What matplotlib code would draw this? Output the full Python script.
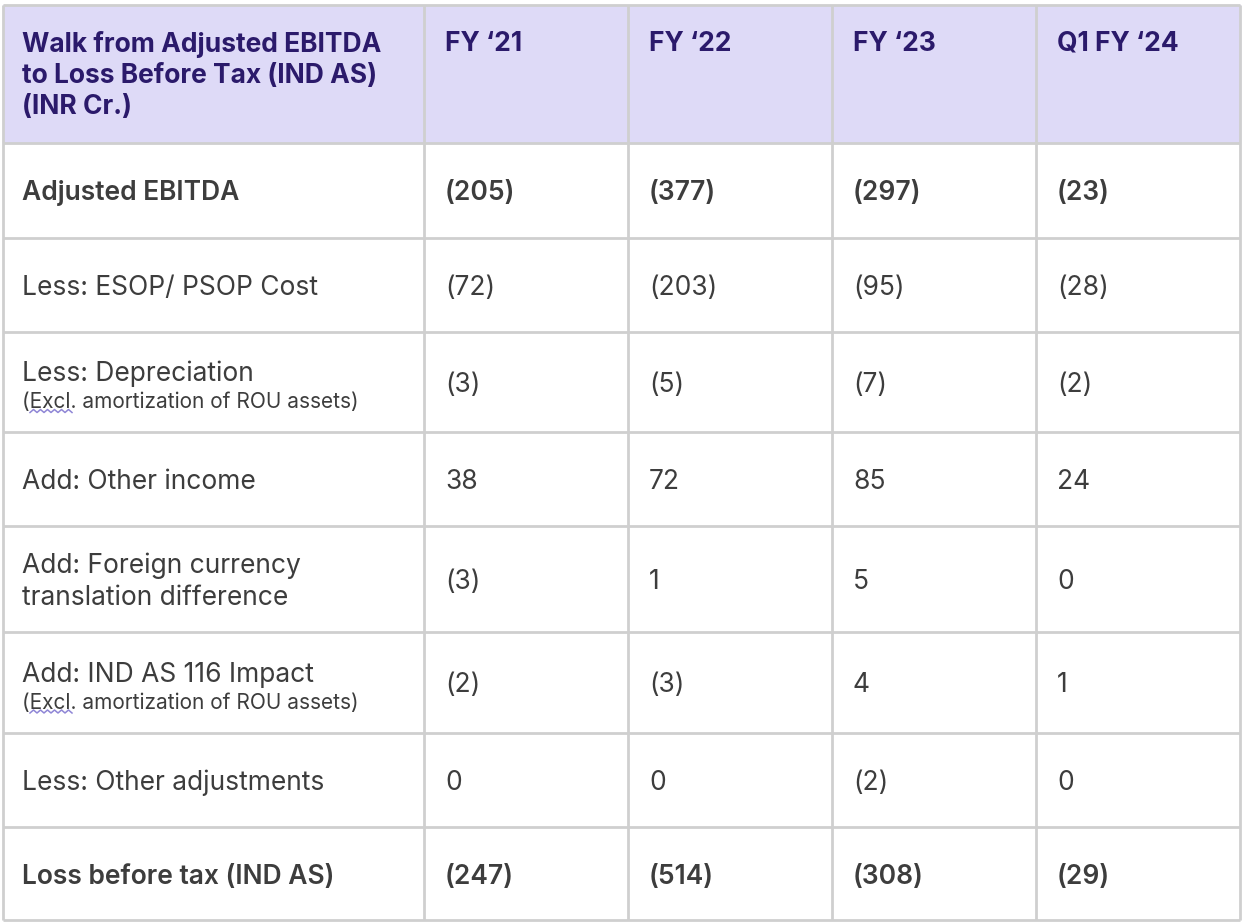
import numpy as np
import matplotlib.pyplot as plt

plt.rcParams['font.family'] = ['Inter', 'DejaVu Sans']

# table contents
header_title = ["Walk from Adjusted EBITDA", "to Loss Before Tax (IND AS)", "(INR Cr.)"]
periods = ["FY \u201821", "FY \u201822", "FY \u201823", "Q1 FY \u201824"]

row_labels = [
    ["Adjusted EBITDA"],
    ["Less: ESOP/ PSOP Cost"],
    ["Less: Depreciation"],
    ["Add: Other income"],
    ["Add: Foreign currency", "translation difference"],
    ["Add: IND AS 116 Impact"],
    ["Less: Other adjustments"],
    ["Loss before tax (IND AS)"],
]
row_notes = ["", "", "(Excl. amortization of ROU assets)", "", "",
             "(Excl. amortization of ROU assets)", "", ""]
bold_rows = [0, 7]

fy21 = ["(205)", "(72)", "(3)", "38", "(3)", "(2)", "0", "(247)"]
fy22 = ["(377)", "(203)", "(5)", "72", "1", "(3)", "0", "(514)"]
fy23 = ["(297)", "(95)", "(7)", "85", "5", "4", "(2)", "(308)"]
q1fy24 = ["(23)", "(28)", "(2)", "24", "0", "1", "0", "(29)"]
columns = [fy21, fy22, fy23, q1fy24]

# layout in pixels
col_edges = [3, 424, 628, 832, 1036, 1240]
row_edges = [5, 143, 238, 332, 432, 526, 632, 733, 827, 920]
pad = 20
fs_main = 19
fs_note = 15

header_bg = "#DEDAF7"
header_fg = "#2B1A6B"
body_fg = "#3D3D3D"
grid_c = "#CFCFCF"
squiggle_c = "#8F86D6"

fig = plt.figure(figsize=(12.42, 9.24), dpi=100)
ax = fig.add_axes([0, 0, 1, 1])
ax.set_xlim(0, 1242)
ax.set_ylim(924, 0)
ax.axis('off')

ax.axhspan(row_edges[0], row_edges[1], xmin=col_edges[0] / 1242, xmax=col_edges[-1] / 1242,
           color=header_bg, zorder=0)
ax.hlines(row_edges, col_edges[0], col_edges[-1], color=grid_c, lw=2, zorder=1)
ax.vlines(col_edges, row_edges[0], row_edges[-1], color=grid_c, lw=2, zorder=1)

x0 = col_edges[0] + pad - 1

# header
for k, line in enumerate(header_title):
    ax.text(x0, 45 + 31 * k, line, fontsize=fs_main, fontweight='bold',
            color=header_fg, va='center', ha='left')
for j, p in enumerate(periods):
    ax.text(col_edges[j + 1] + pad + 1, 44, p, fontsize=fs_main, fontweight='bold',
            color=header_fg, va='center', ha='left')

# body
for i, lines in enumerate(row_labels):
    top, bot = row_edges[i + 1], row_edges[i + 2]
    mid = (top + bot) / 2 + 3
    w = 'semibold' if i in bold_rows else 'normal'
    if row_notes[i]:
        ax.text(x0, mid - 11, lines[0], fontsize=fs_main, fontweight=w,
                color=body_fg, va='center', ha='left')
        ax.text(x0, mid + 17, row_notes[i], fontsize=fs_note,
                color=body_fg, va='center', ha='left')
        # spell-check squiggle under "Excl"
        sx = np.linspace(x0 + 8, x0 + 50, 13)
        sy = mid + 26 + np.where(np.arange(13) % 2 == 0, 1.5, -1.5)
        ax.plot(sx, sy, color=squiggle_c, lw=1.1, zorder=3)
    elif len(lines) == 2:
        ax.text(x0, mid - 16, lines[0], fontsize=fs_main, fontweight=w,
                color=body_fg, va='center', ha='left')
        ax.text(x0, mid + 16, lines[1], fontsize=fs_main, fontweight=w,
                color=body_fg, va='center', ha='left')
    else:
        ax.text(x0, mid, lines[0], fontsize=fs_main, fontweight=w,
                color=body_fg, va='center', ha='left')
    for j, col in enumerate(columns):
        ax.text(col_edges[j + 1] + pad + 1, mid, col[i], fontsize=fs_main, fontweight=w,
                color=body_fg, va='center', ha='left')

fig.savefig("out.png", dpi=100)
plt.close()
